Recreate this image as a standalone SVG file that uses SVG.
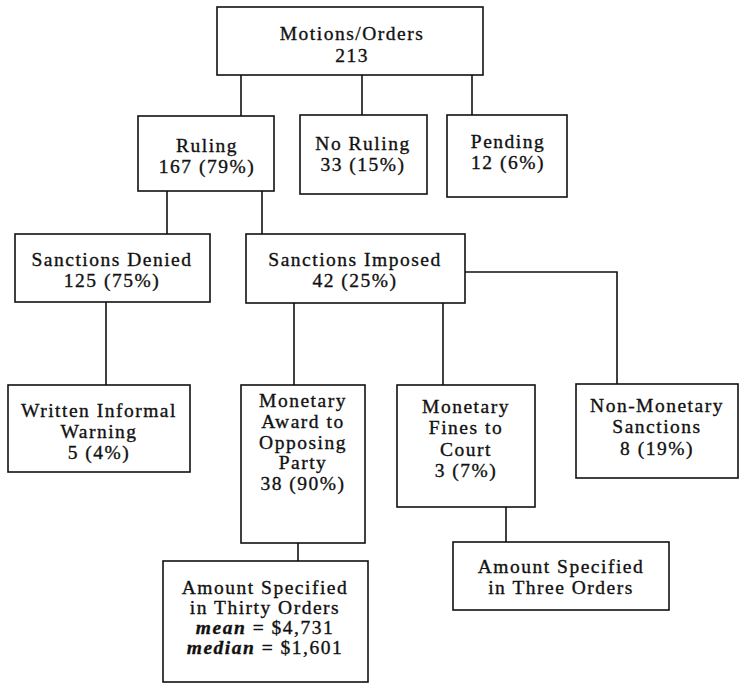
<svg xmlns="http://www.w3.org/2000/svg" width="740" height="683" viewBox="0 0 740 683">
  <style>
    .box { fill: #ffffff; stroke: #111111; stroke-width: 1.6; }
    .link { fill: none; stroke: #111111; stroke-width: 1.6; }
    text { font-family: "Liberation Serif", "DejaVu Serif", serif; font-size: 19.5px; letter-spacing: 1.5px; fill: #111111; text-anchor: middle; stroke: #111111; stroke-width: 0.35; }
    .em { font-style: italic; font-weight: bold; }
  </style>
  <rect width="740" height="683" fill="#ffffff"/>

  <g id="connectors">
    <line class="link" x1="241" y1="75" x2="241" y2="116"/>
    <line class="link" x1="362" y1="75" x2="362" y2="115"/>
    <line class="link" x1="472" y1="75" x2="472" y2="115"/>
    <line class="link" x1="167" y1="191" x2="167" y2="234"/>
    <line class="link" x1="262" y1="191" x2="262" y2="234"/>
    <line class="link" x1="106" y1="302" x2="106" y2="385"/>
    <line class="link" x1="294" y1="303" x2="294" y2="385"/>
    <line class="link" x1="443" y1="303" x2="443" y2="385"/>
    <polyline class="link" points="465,272 617,272 617,384"/>
    <line class="link" x1="298" y1="543" x2="298" y2="561"/>
    <line class="link" x1="506" y1="507" x2="506" y2="542"/>
  </g>

  <g id="motions">
    <rect class="box" x="217" y="7" width="266" height="68"/>
    <text x="352" y="40">Motions/Orders</text>
    <text x="352" y="62">213</text>
  </g>

  <g id="ruling">
    <rect class="box" x="138" y="116" width="136" height="75"/>
    <text x="207" y="152">Ruling</text>
    <text x="207" y="173">167 (79%)</text>
  </g>

  <g id="no-ruling">
    <rect class="box" x="300" y="115" width="127" height="79"/>
    <text x="363" y="150">No Ruling</text>
    <text x="363" y="171">33 (15%)</text>
  </g>

  <g id="pending">
    <rect class="box" x="447" y="115" width="120" height="82"/>
    <text x="508" y="148">Pending</text>
    <text x="508" y="169">12 (6%)</text>
  </g>

  <g id="sanctions-denied">
    <rect class="box" x="15" y="234" width="195" height="68"/>
    <text x="112" y="266">Sanctions Denied</text>
    <text x="112" y="287">125 (75%)</text>
  </g>

  <g id="sanctions-imposed">
    <rect class="box" x="246" y="234" width="219" height="69"/>
    <text x="355" y="266">Sanctions Imposed</text>
    <text x="355" y="287">42 (25%)</text>
  </g>

  <g id="written-warning">
    <rect class="box" x="8" y="385" width="182" height="87"/>
    <text x="99" y="417">Written Informal</text>
    <text x="99" y="438">Warning</text>
    <text x="99" y="459">5 (4%)</text>
  </g>

  <g id="monetary-award">
    <rect class="box" x="241" y="385" width="124" height="158"/>
    <text x="303" y="407">Monetary</text>
    <text x="303" y="428">Award to</text>
    <text x="303" y="449">Opposing</text>
    <text x="303" y="469">Party</text>
    <text x="303" y="490">38 (90%)</text>
  </g>

  <g id="monetary-fines">
    <rect class="box" x="397" y="385" width="138" height="122"/>
    <text x="466" y="413">Monetary</text>
    <text x="466" y="434">Fines to</text>
    <text x="466" y="456">Court</text>
    <text x="466" y="477">3 (7%)</text>
  </g>

  <g id="non-monetary">
    <rect class="box" x="576" y="384" width="162" height="94"/>
    <text x="657" y="412">Non-Monetary</text>
    <text x="657" y="433">Sanctions</text>
    <text x="657" y="455">8 (19%)</text>
  </g>

  <g id="amount-thirty">
    <rect class="box" x="163" y="561" width="205" height="121"/>
    <text x="265" y="594">Amount Specified</text>
    <text x="265" y="614">in Thirty Orders</text>
    <text x="265" y="634"><tspan class="em">mean</tspan> = $4,731</text>
    <text x="265" y="654"><tspan class="em">median</tspan> = $1,601</text>
  </g>

  <g id="amount-three">
    <rect class="box" x="453" y="542" width="216" height="68"/>
    <text x="561" y="573">Amount Specified</text>
    <text x="561" y="594">in Three Orders</text>
  </g>
</svg>
